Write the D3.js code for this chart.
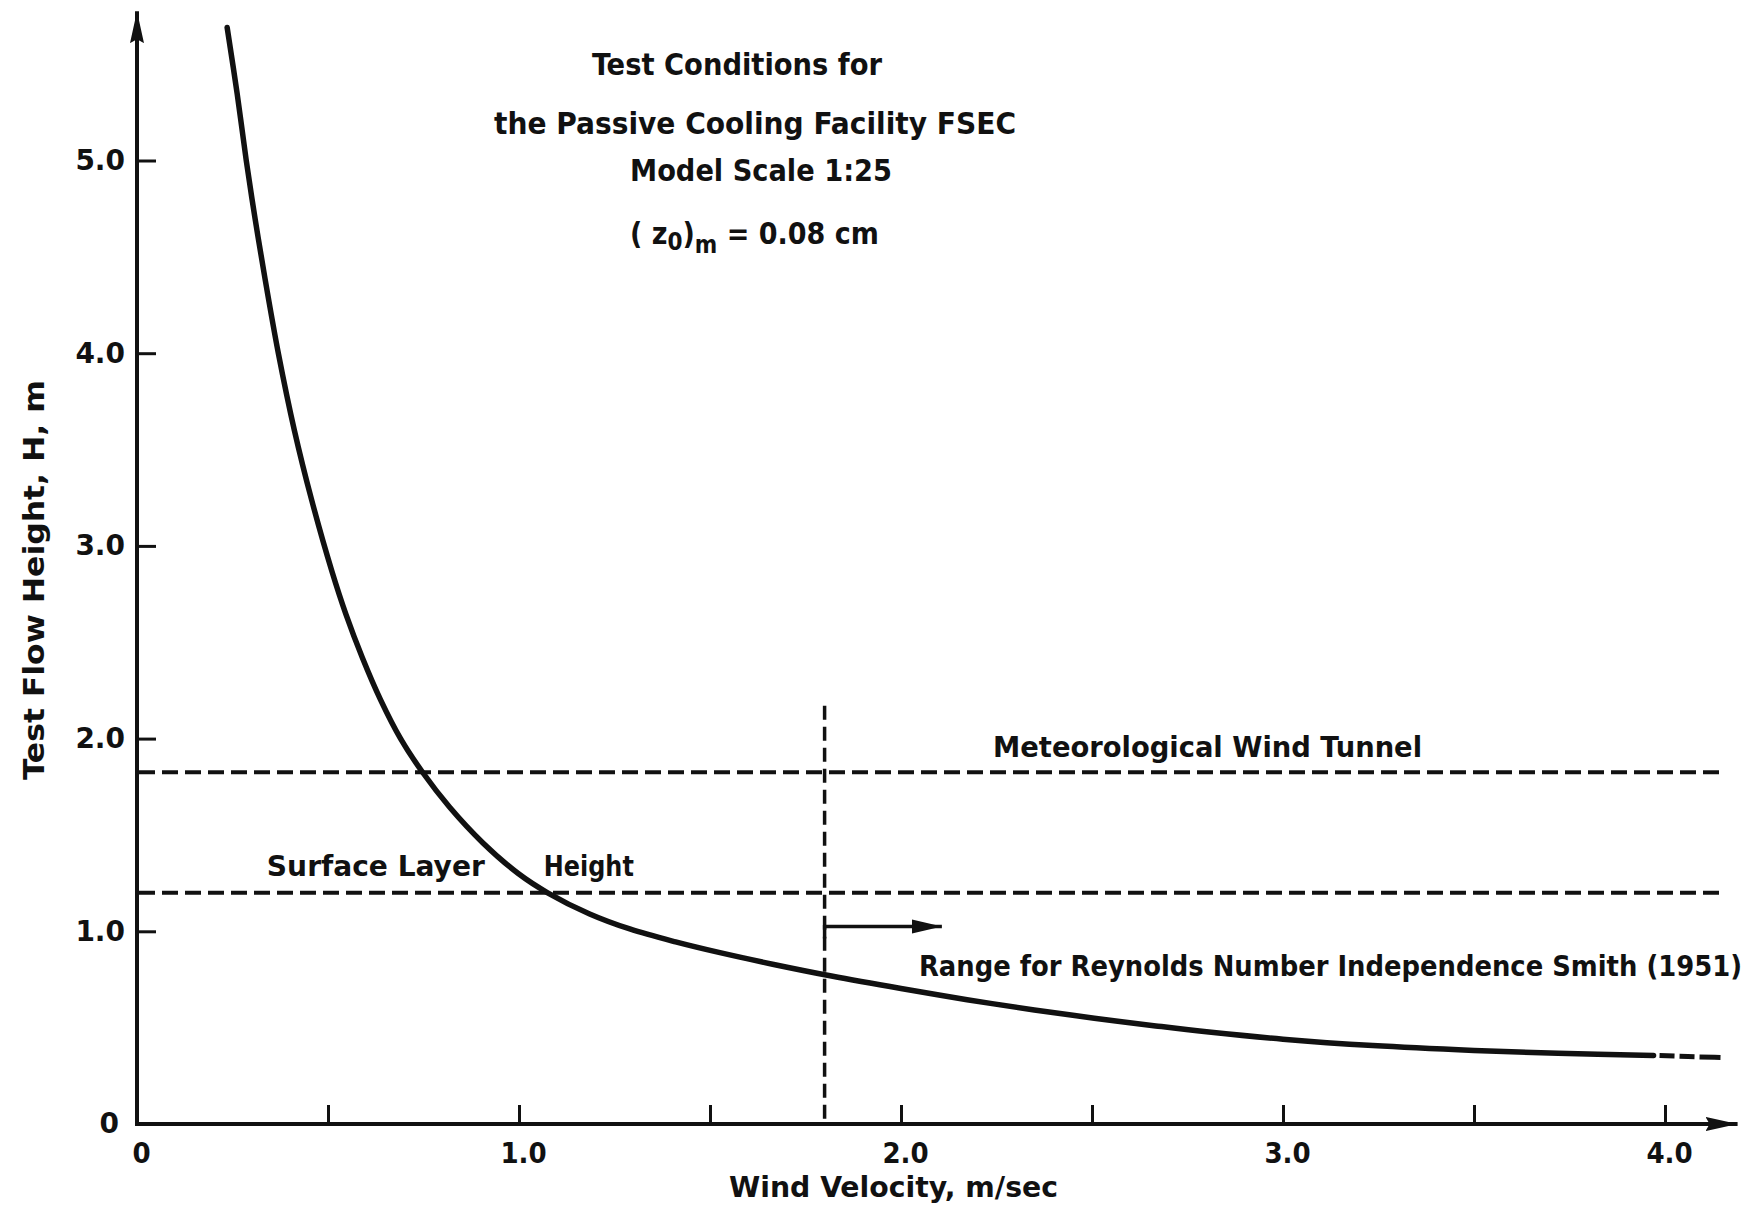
<!DOCTYPE html>
<html>
<head>
<meta charset="utf-8">
<script src="https://cdn.jsdelivr.net/npm/d3@7"></script>
<style>
  html, body { margin: 0; padding: 0; background: #fff; }
  svg { display: block; }
  .lbl { font-family: "DejaVu Sans Condensed", "DejaVu Sans", sans-serif; font-stretch: condensed; font-weight: bold; fill: #111; }
  .ytick text { font-family: "DejaVu Sans", sans-serif; font-weight: bold; fill: #111; }
</style>
</head>
<body>
<script>
// ---- data ----
const velocity = [0.236, 0.262, 0.286, 0.309, 0.334, 0.370, 0.412, 0.457, 0.510, 0.547, 0.590, 0.638, 0.690, 0.748, 0.818, 0.905, 0.998, 1.075, 1.185, 1.29, 1.41, 1.526, 1.667, 1.818, 2.0, 2.173, 2.349, 2.506, 2.667, 2.806, 3.0, 3.235, 3.5, 3.72, 3.97];
const height   = [5.69, 5.35, 5.00, 4.70, 4.40, 4.00, 3.60, 3.24, 2.87, 2.645, 2.42, 2.20, 2.00, 1.824, 1.645, 1.46, 1.30, 1.20, 1.09, 1.012, 0.945, 0.889, 0.828, 0.768, 0.703, 0.645, 0.592, 0.549, 0.509, 0.477, 0.440, 0.407, 0.382, 0.367, 0.356];
const extVelocity = [3.97, 4.06, 4.15];
const extHeight   = [0.356, 0.350, 0.345];

const windTunnelHeight = 1.825;   // Meteorological Wind Tunnel
const surfaceLayerHeight = 1.20;  // Surface Layer Height
const reynoldsVelocity = 1.8;     // Range for Reynolds Number Independence
const refLineEnd = 4.15;
const reynoldsTop = 2.17;
const arrowLevel = 1.025;
const arrowEnd = 2.107;

const xTicks = [0, 0.5, 1.0, 1.5, 2.0, 2.5, 3.0, 3.5, 4.0];
const xTickLabels = ["0", "", "1.0", "", "2.0", "", "3.0", "", "4.0"];
const yTicks = [0, 1, 2, 3, 4, 5];
const yTickLabels = ["0", "1.0", "2.0", "3.0", "4.0", "5.0"];

const titleLines = ["Test Conditions for", "the Passive Cooling Facility FSEC", "Model Scale 1:25"];
const xTitle = "Wind Velocity,  m/sec";
const yTitle = "Test Flow Height,  H,  m";

// ---- drawing ----
const W = 1752, H = 1206;
const svg = d3.select("body").append("svg").attr("width", W).attr("height", H);
svg.append("rect").attr("width", W).attr("height", H).attr("fill", "#fff");

const x = d3.scaleLinear().domain([0, 4.0]).range([137, 1665]);
const y = d3.scaleLinear().domain([0, 5.0]).range([1124, 160.5]);

const defs = svg.append("defs");
defs.append("marker").attr("id", "arrR").attr("markerUnits", "userSpaceOnUse")
  .attr("viewBox", "0 -8 34 16").attr("refX", 32).attr("refY", 0)
  .attr("markerWidth", 34).attr("markerHeight", 16).attr("orient", "auto")
  .append("path").attr("d", "M0,-7 L32,0 L0,7 L4,0 Z").attr("fill", "#111");
defs.append("marker").attr("id", "arrS").attr("markerUnits", "userSpaceOnUse")
  .attr("viewBox", "0 -8 32 16").attr("refX", 30).attr("refY", 0)
  .attr("markerWidth", 32).attr("markerHeight", 16).attr("orient", "auto")
  .append("path").attr("d", "M0,-7 L30,0 L0,7 Z").attr("fill", "#111");

// axes lines with arrows
svg.append("line").attr("x1", x(0)).attr("y1", y(0)).attr("x2", x(4.19)).attr("y2", y(0))
  .attr("stroke", "#111").attr("stroke-width", 4).attr("marker-end", "url(#arrR)");
svg.append("line").attr("x1", x(0)).attr("y1", y(0) + 2).attr("x2", x(0)).attr("y2", y(5.775))
  .attr("stroke", "#111").attr("stroke-width", 4).attr("marker-end", "url(#arrR)");

// x axis ticks
const gx = svg.append("g").attr("transform", `translate(0,${y(0)})`)
  .call(d3.axisBottom(x).tickValues(xTicks).tickFormat((d, i) => xTickLabels[i])
    .tickSizeInner(-19).tickSizeOuter(0).tickPadding(18));
gx.select(".domain").remove();
gx.selectAll(".tick line").attr("stroke", "#111").attr("stroke-width", 3);
gx.selectAll(".tick").filter(d => d === 0).select("line").remove();
gx.selectAll(".tick text").attr("class", "lbl").attr("font-size", 29).attr("dx", 4);

// y axis ticks
const gy = svg.append("g").attr("class", "ytick").attr("transform", `translate(${x(0)},0)`)
  .call(d3.axisLeft(y).tickValues(yTicks).tickFormat((d, i) => yTickLabels[i])
    .tickSizeInner(-19).tickSizeOuter(0).tickPadding(12));
gy.select(".domain").remove();
gy.selectAll(".tick line").attr("stroke", "#111").attr("stroke-width", 3);
gy.selectAll(".tick").filter(d => d === 0).select("line").remove();
gy.selectAll(".tick text").attr("font-size", 28);
gy.selectAll(".tick").filter(d => d === 0).select("text").attr("x", -18);

// reference dashed lines
[windTunnelHeight, surfaceLayerHeight].forEach(h => {
  svg.append("line").attr("x1", x(0) + 2).attr("x2", x(refLineEnd))
    .attr("y1", y(h)).attr("y2", y(h))
    .attr("stroke", "#111").attr("stroke-width", 4).attr("stroke-dasharray", "16,7");
});
svg.append("line").attr("x1", x(reynoldsVelocity)).attr("x2", x(reynoldsVelocity))
  .attr("y1", y(reynoldsTop)).attr("y2", y(0))
  .attr("stroke", "#111").attr("stroke-width", 3.5).attr("stroke-dasharray", "14,7");

// Reynolds arrow
svg.append("line").attr("x1", x(reynoldsVelocity)).attr("x2", x(reynoldsVelocity))
  .attr("y1", y(arrowLevel) - 1.5).attr("y2", y(arrowLevel) + 12)
  .attr("stroke", "#111").attr("stroke-width", 3.5);
svg.append("line").attr("x1", x(reynoldsVelocity)).attr("x2", x(arrowEnd))
  .attr("y1", y(arrowLevel)).attr("y2", y(arrowLevel))
  .attr("stroke", "#111").attr("stroke-width", 3.5).attr("marker-end", "url(#arrS)");

// main curve
const pts = velocity.map((v, i) => [v, height[i]]);
const line = d3.line().x(d => x(d[0])).y(d => y(d[1])).curve(d3.curveCatmullRom.alpha(0.5));
svg.append("path").attr("d", line(pts)).attr("fill", "none")
  .attr("stroke", "#111").attr("stroke-width", 5.5).attr("stroke-linecap", "round");
const ext = extVelocity.map((v, i) => [v, extHeight[i]]);
svg.append("path").attr("d", d3.line().x(d => x(d[0])).y(d => y(d[1]))(ext)).attr("fill", "none")
  .attr("stroke", "#111").attr("stroke-width", 5).attr("stroke-dasharray", "0,6,15,5,15,5,15");

// in-plot labels (anchored in data units)
function label(txt, vx, hy, len) {
  const t = svg.append("text").attr("class", "lbl").attr("x", x(vx)).attr("y", y(hy))
    .attr("font-size", 29).text(txt);
  if (len) t.attr("textLength", len).attr("lengthAdjust", "spacingAndGlyphs");
  return t;
}
label("Meteorological Wind Tunnel", 2.241, 1.905, 429);
label("Surface Layer", 0.340, 1.287, 218);
label("Height", 1.065, 1.287, 90);
label("Range for Reynolds Number Independence Smith (1951)", 2.047, 0.768, 823);

// title block
const tl = [[592, 75, 290], [494, 134, 522], [630, 181, 262]];
titleLines.forEach((s, i) => {
  svg.append("text").attr("class", "lbl").attr("x", tl[i][0]).attr("y", tl[i][1])
    .attr("font-size", 30).attr("textLength", tl[i][2]).attr("lengthAdjust", "spacingAndGlyphs").text(s);
});
const z = svg.append("text").attr("class", "lbl").attr("x", 630).attr("y", 244).attr("font-size", 30);
z.append("tspan").text("( z");
z.append("tspan").attr("dy", 6).attr("font-size", 24).text("0");
z.append("tspan").attr("dy", -6).text(")");
z.append("tspan").attr("dy", 9).attr("font-size", 24).text("m");
z.append("tspan").attr("dy", -9).text(" = 0.08 cm");

// axis titles
svg.append("text").attr("class", "lbl").attr("x", 729).attr("y", 1197).attr("font-size", 29)
  .attr("textLength", 329).attr("lengthAdjust", "spacingAndGlyphs").text(xTitle);
svg.append("text").attr("class", "lbl")
  .attr("transform", "translate(44,580) rotate(-90)").attr("text-anchor", "middle")
  .attr("font-size", 29).attr("textLength", 400).attr("lengthAdjust", "spacingAndGlyphs").text(yTitle);
</script>
</body>
</html>
